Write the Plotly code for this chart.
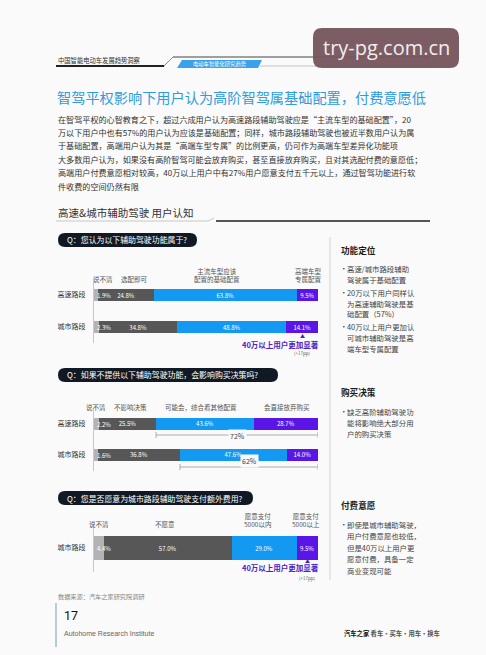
import plotly.graph_objects as go

W, H = 486, 655
FONT = "Noto Sans CJK SC"
BG = "#f9faf9"

# ---------------- data ----------------
q1_rows = ["高速路段", "城市路段"]
q1_unclear = [1.9, 2.3]
q1_optional = [24.8, 34.8]
q1_base = [63.8, 48.8]
q1_premium = [9.5, 14.1]
q1_headers = ["说不清", "选配即可", "主流车型应该<br>配置的基础配置", "高端车型<br>专属配置"]

q2_rows = ["高速路段", "城市路段"]
q2_unclear = [2.2, 1.6]
q2_noeffect = [25.5, 36.8]
q2_maybe = [43.6, 47.6]
q2_abandon = [28.7, 14.0]
q2_headers = ["说不清", "不影响决策", "可能会，综合看其他配置", "会直接放弃购买"]

q3_rows = ["城市路段"]
q3_unclear = [4.4]
q3_unwilling = [57.0]
q3_under5k = [29.0]
q3_over5k = [9.5]
q3_headers = ["说不清", "不愿意", "愿意支付<br>5000以内", "愿意支付<br>5000以上"]

C_LIGHT = "#b3b3b3"
C_DARK = "#575757"
C_BLUE = "#1499f2"
C_PURPLE = "#5a16e6"
C_ANN = "#4b22c8"


def X(px):
    return px / W


def Y(py):
    return 1 - py / H


annotations = []
shapes = []


def txt(text, x, y, size, color="#333", xanchor="left", yanchor="middle", bold=False,
        family=FONT, bg=None, align="left"):
    if bold:
        text = "<b>" + text + "</b>"
    d = dict(text=text, x=X(x), y=Y(y), xref="paper", yref="paper", showarrow=False,
             xanchor=xanchor, yanchor=yanchor, align=align,
             font=dict(size=size, color=color, family=family))
    if bg:
        d["bgcolor"] = bg
    annotations.append(d)


def line(x0, y0, x1, y1, color, width=1):
    shapes.append(dict(type="line", xref="paper", yref="paper", x0=X(x0), y0=Y(y0),
                       x1=X(x1), y1=Y(y1), line=dict(color=color, width=width)))


def rrect(x0, y0, x1, y1, r, fill):
    p = lambda a, b: f"{X(a):.5f},{Y(b):.5f}"
    path = (f"M {p(x0+r,y0)} L {p(x1-r,y0)} Q {p(x1,y0)} {p(x1,y0+r)} "
            f"L {p(x1,y1-r)} Q {p(x1,y1)} {p(x1-r,y1)} L {p(x0+r,y1)} "
            f"Q {p(x0,y1)} {p(x0,y1-r)} L {p(x0,y0+r)} Q {p(x0,y0)} {p(x0+r,y0)} Z")
    shapes.append(dict(type="path", xref="paper", yref="paper", path=path,
                       fillcolor=fill, line=dict(width=0)))


def poly(pts, fill):
    path = "M " + " L ".join(f"{X(a):.5f},{Y(b):.5f}" for a, b in pts) + " Z"
    shapes.append(dict(type="path", xref="paper", yref="paper", path=path,
                       fillcolor=fill, line=dict(width=0)))


fig = go.Figure()

# ---------------- bar charts ----------------
BX0, BX1 = 94, 318


def add_chart(idx, rows, series, colors, width):
    xa = "x" if idx == 1 else f"x{idx}"
    ya = "y" if idx == 1 else f"y{idx}"
    for k, (vals, col) in enumerate(zip(series, colors)):
        fig.add_trace(go.Bar(
            y=rows, x=vals, orientation="h", marker=dict(color=col, line=dict(width=0)),
            width=width, xaxis=xa, yaxis=ya, showlegend=False,
            texttemplate="%{x:.1f}%" if k > 0 else None,
            textposition="inside" if k > 0 else "none",
            insidetextanchor="middle",
            textfont=dict(size=6, color="white", family=FONT),
            hoverinfo="skip"))
    # first-segment labels overflowing to the right
    for r, v in zip(rows, series[0]):
        annotations.append(dict(text=f"{v:.1f}%", x=0, y=r, xref=xa, yref=ya,
                                showarrow=False, xanchor="left", xshift=1,
                                font=dict(size=6, color="white", family=FONT)))


add_chart(1, q1_rows, [q1_unclear, q1_optional, q1_base, q1_premium],
          [C_LIGHT, C_DARK, C_BLUE, C_PURPLE], 0.375)
add_chart(2, q2_rows, [q2_unclear, q2_noeffect, q2_maybe, q2_abandon],
          [C_LIGHT, C_DARK, C_BLUE, C_PURPLE], 0.39)
add_chart(3, q3_rows, [q3_unclear, q3_unwilling, q3_under5k, q3_over5k],
          [C_LIGHT, C_DARK, C_BLUE, C_PURPLE], 0.5)

xdom = [X(BX0), X(BX1)]
xax = dict(domain=xdom, range=[0, 100], visible=False, fixedrange=True)


def yax(top, bot, n, anchor):
    return dict(domain=[Y(bot), Y(top)], range=[n - 0.5, -0.5], anchor=anchor,
                showline=True, linecolor="#c9c9c9", linewidth=1, ticks="",
                showgrid=False, zeroline=False, ticklabelstandoff=6,
                tickfont=dict(size=7, color="#333", family=FONT), fixedrange=True)


# headers
for t, xc in zip(q1_headers, [103, 134, 217, 308]):
    txt(t, xc, 286, 6.5, "#555", xanchor="center", yanchor="bottom", align="center")
for t, xc in zip(q2_headers, [96, 130, 201, 287]):
    txt(t, xc, 407, 6.5, "#555", xanchor="center", yanchor="middle", align="center")
for t, xc in zip(q3_headers, [99, 165, 257, 306]):
    txt(t, xc, 531, 6.5, "#555", xanchor="center", yanchor="bottom", align="center")

# brackets for chart 2
for i, yb in enumerate([435, 467]):
    start = q2_unclear[i] + q2_noeffect[i]
    share = q2_maybe[i] + q2_abandon[i]
    shapes.append(dict(type="line", xref="x2", yref="paper", x0=start, x1=100,
                       y0=Y(yb), y1=Y(yb), line=dict(color="#9a9a9a", width=0.8)))
    for xe in (start, 100):
        shapes.append(dict(type="line", xref="x2", yref="paper", x0=xe, x1=xe,
                           y0=Y(yb - 3), y1=Y(yb + 3), line=dict(color="#9a9a9a", width=0.8)))
    annotations.append(dict(text=f"{round(share)}%", x=(start + 100) / 2, y=Y(yb + 1),
                            xref="x2", yref="paper", showarrow=False, bgcolor=BG,
                            borderpad=1, font=dict(size=7, color="#444", family=FONT)))

# highlight notes (chart 1 & 3)
for xa, xm, y0 in [("x", 100 - q1_premium[1] / 2, 335), ("x3", 100 - q3_over5k[0] / 2, 564.5)]:
    annotations.append(dict(text="▲", x=xm, y=Y(y0), xref=xa, yref="paper", showarrow=False,
                            borderpad=0, font=dict(size=5, color=C_ANN, family=FONT)))
    annotations.append(dict(text="<b>40万以上用户更加显著</b>", x=100, xshift=2, y=Y(y0 + 9.5),
                            xref=xa, yref="paper", showarrow=False, xanchor="right",
                            borderpad=0, font=dict(size=7.5, color=C_ANN, family=FONT)))
    annotations.append(dict(text="(+17pp)", x=xm, y=Y(y0 + 18.5), xref=xa, yref="paper",
                            borderpad=0, showarrow=False,
                            font=dict(size=4.5, color="#666", family=FONT)))

# ---------------- page decorations ----------------
# header
txt("中国智能电动车发展趋势洞察", 56, 60, 6.3, "#333")
line(56, 66, 164, 66, "#222", 2)
line(164, 66, 173, 57, "#888", 1)
line(173, 57, 430, 57, "#444", 1)
poly([(177, 68), (182, 60), (262, 60), (258, 68)], "#3aa2ea")
txt("电动车智能化研究趋势", 220, 64, 5.3, "white", xanchor="center")
line(260, 66, 430, 66, "#c4c4c4", 1)

# watermark box
rrect(313, 28, 459, 68, 9, "rgba(118,84,92,0.95)")
txt("try-pg.com.cn", 386, 47, 20, "#f3ecee", xanchor="center", family="Open Sans")

# title
txt("智驾平权影响下用户认为高阶智驾属基础配置，付费意愿低", 55, 97, 14.2, "#2f9be0")

para = [
    ("在智驾平权的心智教育之下，超过六成用户认为高速路段辅助驾驶应是“主流车型的基础配置”，20", 120),
    ("万以下用户中也有57%的用户认为应该是基础配置；同样，城市路段辅助驾驶也被近半数用户认为属", 132.5),
    ("于基础配置，高端用户认为其是“高端车型专属”的比例更高，仍可作为高端车型差异化功能项", 145),
    ("大多数用户认为，如果没有高阶智驾可能会放弃购买，甚至直接放弃购买，且对其选配付费的意愿低；", 160),
    ("高端用户付费意愿相对较高，40万以上用户中有27%用户愿意支付五千元以上，通过智驾功能进行软", 173),
    ("件收费的空间仍然有限", 186),
]
for t, yy in para:
    txt(t, 56, yy, 8.1, "#333")

# section header
txt("高速&城市辅助驾驶 用户认知", 56, 212, 10.5, "#333")
line(56, 221, 208, 221, "#c8c8c8", 1)
line(208, 221, 214, 218, "#c8c8c8", 1)
line(216, 221, 430, 221, "#555", 2)

# question pills
for (x0, x1, y0, y1, q) in [
    (58, 197, 233, 247, "Q：您认为以下辅助驾驶功能属于?"),
    (58, 278, 368, 382, "Q：如果不提供以下辅助驾驶功能，会影响购买决策吗?"),
    (58, 253, 491, 505, "Q：您是否愿意为城市路段辅助驾驶支付额外费用?"),
]:
    rrect(x0, y0, x1, y1, 7, "#111a24")
    txt(q, 65, (y0 + y1) / 2, 7.9, "white")

# divider
line(330, 237, 330, 580, "#d2d2d2", 1)

# right column notes
right = [
    ("功能定位", 250, True, None),
    ("高速/城市路段辅助", 268, False, True),
    ("驾驶属于基础配置", 279, False, False),
    ("20万以下用户同样认", 292, False, True),
    ("为高速辅助驾驶是基", 303, False, False),
    ("础配置（57%）", 314, False, False),
    ("40万以上用户更加认", 326, False, True),
    ("可城市辅助驾驶是高", 337, False, False),
    ("端车型专属配置", 348, False, False),
    ("购买决策", 392, True, None),
    ("缺乏高阶辅助驾驶功", 411, False, True),
    ("能将影响绝大部分用", 422, False, False),
    ("户的购买决策", 433, False, False),
    ("付费意愿", 505, True, None),
    ("即使是城市辅助驾驶，", 524, False, True),
    ("用户付费意愿也较低，", 535.5, False, False),
    ("但是40万以上用户更", 547, False, False),
    ("愿意付费，具备一定", 558.5, False, False),
    ("商业变现可能", 570, False, False),
]
for t, yy, head, bullet in right:
    if head:
        txt(t, 339, yy, 8.6, "#1a1a1a", bold=True)
    else:
        if bullet:
            txt("•", 338, yy, 7.5, "#444")
        txt(t, 345, yy, 7.4, "#444")

# footer
txt("数据来源：汽车之家研究院调研", 56, 596, 6.2, "#888")
line(56, 603, 56, 647, "#9fbccb", 1.5)
txt("17", 62, 615, 12.5, "#111", family="Roboto")
txt("Autohome Research Institute", 62, 633, 7, "#666", family="Liberation Sans")
txt("<b>汽车之家</b> <b><span style='color:#555'>看车·买车·用车·换车</span></b>", 342, 633, 6.3, "#111")

fig.update_layout(
    width=W, height=H, margin=dict(l=0, r=0, t=0, b=0),
    paper_bgcolor=BG, plot_bgcolor=BG, barmode="stack", showlegend=False,
    font=dict(family=FONT),
    uniformtext=dict(minsize=6, mode="show"),
    xaxis=dict(xax, anchor="y"),
    xaxis2=dict(xax, anchor="y2"),
    xaxis3=dict(xax, anchor="y3"),
    yaxis=yax(279, 343, 2, "x"),
    yaxis2=yax(408.5, 470.5, 2, "x2"),
    yaxis3=yax(524, 572, 1, "x3"),
    annotations=annotations,
    shapes=shapes,
)

fig.write_html("out.html", config={"displayModeBar": False},
               post_script="document.body.style.margin='0';document.body.style.background='%s';" % BG)
